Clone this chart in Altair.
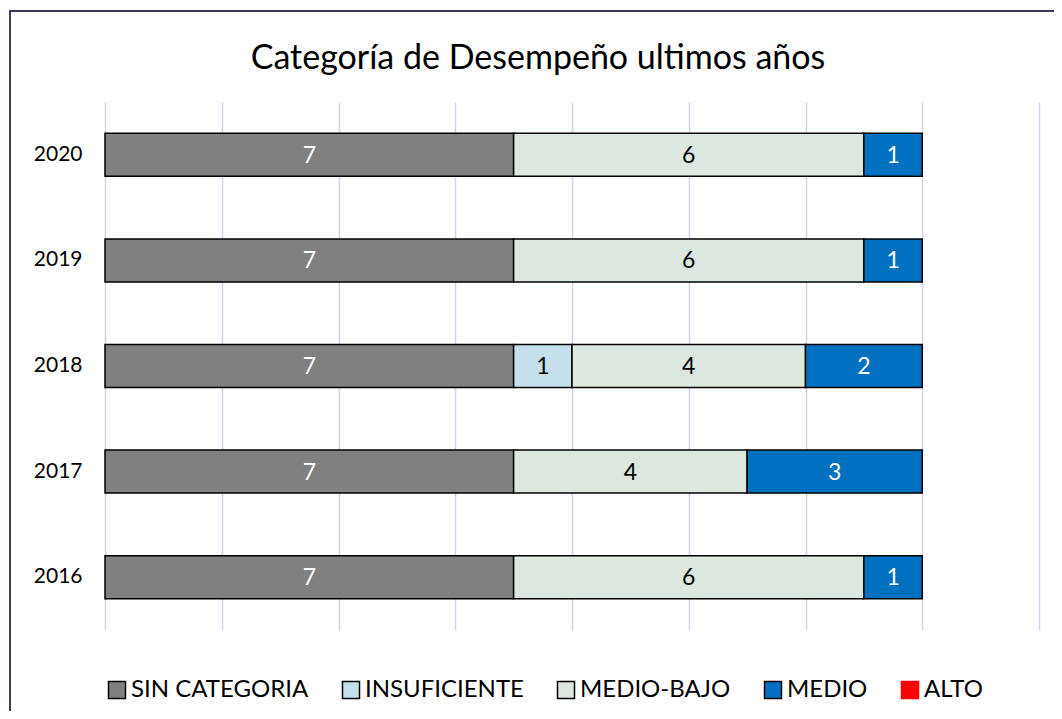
import altair as alt
import pandas as pd

years = ["2020", "2019", "2018", "2017", "2016"]
categories = ["SIN CATEGORIA", "INSUFICIENTE", "MEDIO-BAJO", "MEDIO", "ALTO"]
sin_categoria = [7, 7, 7, 7, 7]
insuficiente = [0, 0, 1, 0, 0]
medio_bajo = [6, 6, 4, 4, 6]
medio = [1, 1, 2, 3, 1]
alto = [0, 0, 0, 0, 0]

fill_colors = ["#808080", "#c5e0ea", "#dbe7df", "#0070c0", "#ff0000"]
stroke_colors = ["#000000", "#000000", "#000000", "#000000", "#ff0000"]
text_colors = ["white", "black", "black", "white", "black"]

series = [sin_categoria, insuficiente, medio_bajo, medio, alto]
rows = []
for yi, y in enumerate(years):
    for ci, c in enumerate(categories):
        rows.append({"year": y, "cat": c, "value": series[ci][yi], "idx": ci,
                     "tcolor": text_colors[ci]})
df = pd.DataFrame(rows)

FONT = "Lato"
legend = alt.Legend(
    title=None, orient="none", legendX=0, legendY=576, direction="horizontal",
    columns=5, symbolType="square", symbolSize=289, symbolStrokeWidth=1.5,
    labelFontSize=24, labelFont=FONT, labelColor="black", columnPadding=30,
    labelOffset=2, symbolOpacity=1, labelLimit=0,
)

y_enc = alt.Y("year:N", sort=years,
              scale=alt.Scale(paddingInner=0.593, paddingOuter=0.2965),
              axis=alt.Axis(title=None, ticks=False, domain=False, labelFontSize=21,
                            labelPadding=23, labelColor="black", labelFont=FONT))

bars = alt.Chart(df).transform_filter("datum.value > 0").mark_bar(strokeWidth=1.5).encode(
    y=y_enc,
    x=alt.X("value:Q", stack="zero",
            scale=alt.Scale(domain=[0, 16], nice=False, zero=True),
            axis=alt.Axis(title=None, values=list(range(0, 17, 2)), labels=False,
                          ticks=False, domain=False, grid=True,
                          gridColor="#d6d0f0", gridWidth=1.5)),
    fill=alt.Fill("cat:N", scale=alt.Scale(domain=categories, range=fill_colors), legend=legend),
    stroke=alt.Stroke("cat:N", scale=alt.Scale(domain=categories, range=stroke_colors), legend=legend),
    order=alt.Order("idx:Q", sort="ascending"),
)

text = alt.Chart(df).transform_filter("datum.value > 0").transform_stack(
    stack="value", groupby=["year"], as_=["x0", "x1"],
    sort=[alt.SortField("idx", order="ascending")],
).transform_calculate(mid="(datum.x0 + datum.x1) / 2").mark_text(
    fontSize=23, font=FONT, baseline="middle", align="center", dy=1
).encode(
    y=alt.Y("year:N", sort=years),
    x=alt.X("mid:Q"),
    text=alt.Text("value:Q"),
    color=alt.Color("tcolor:N", scale=None),
)

frame = alt.Chart(pd.DataFrame({"a": [0]})).mark_rect(
    fillOpacity=0, stroke="#3c3c58", strokeWidth=2
).encode(x=alt.value(-95), x2=alt.value(1100), y=alt.value(-91), y2=alt.value(700))

chart = alt.layer(frame, bars, text).properties(
    width=934, height=528,
    autosize=alt.AutoSizeParams(type="none"),
    padding={"left": 97, "top": 94, "right": 15, "bottom": 81},
    title=alt.TitleParams("Categoría de Desempeño ultimos años", fontSize=34, font=FONT,
                          fontWeight="normal", color="black", anchor="middle",
                          dx=-34, dy=66, offset=0),
    background="white",
).configure_view(stroke=None)

chart.save("out.html", embed_options={"renderer": "svg", "actions": False})
